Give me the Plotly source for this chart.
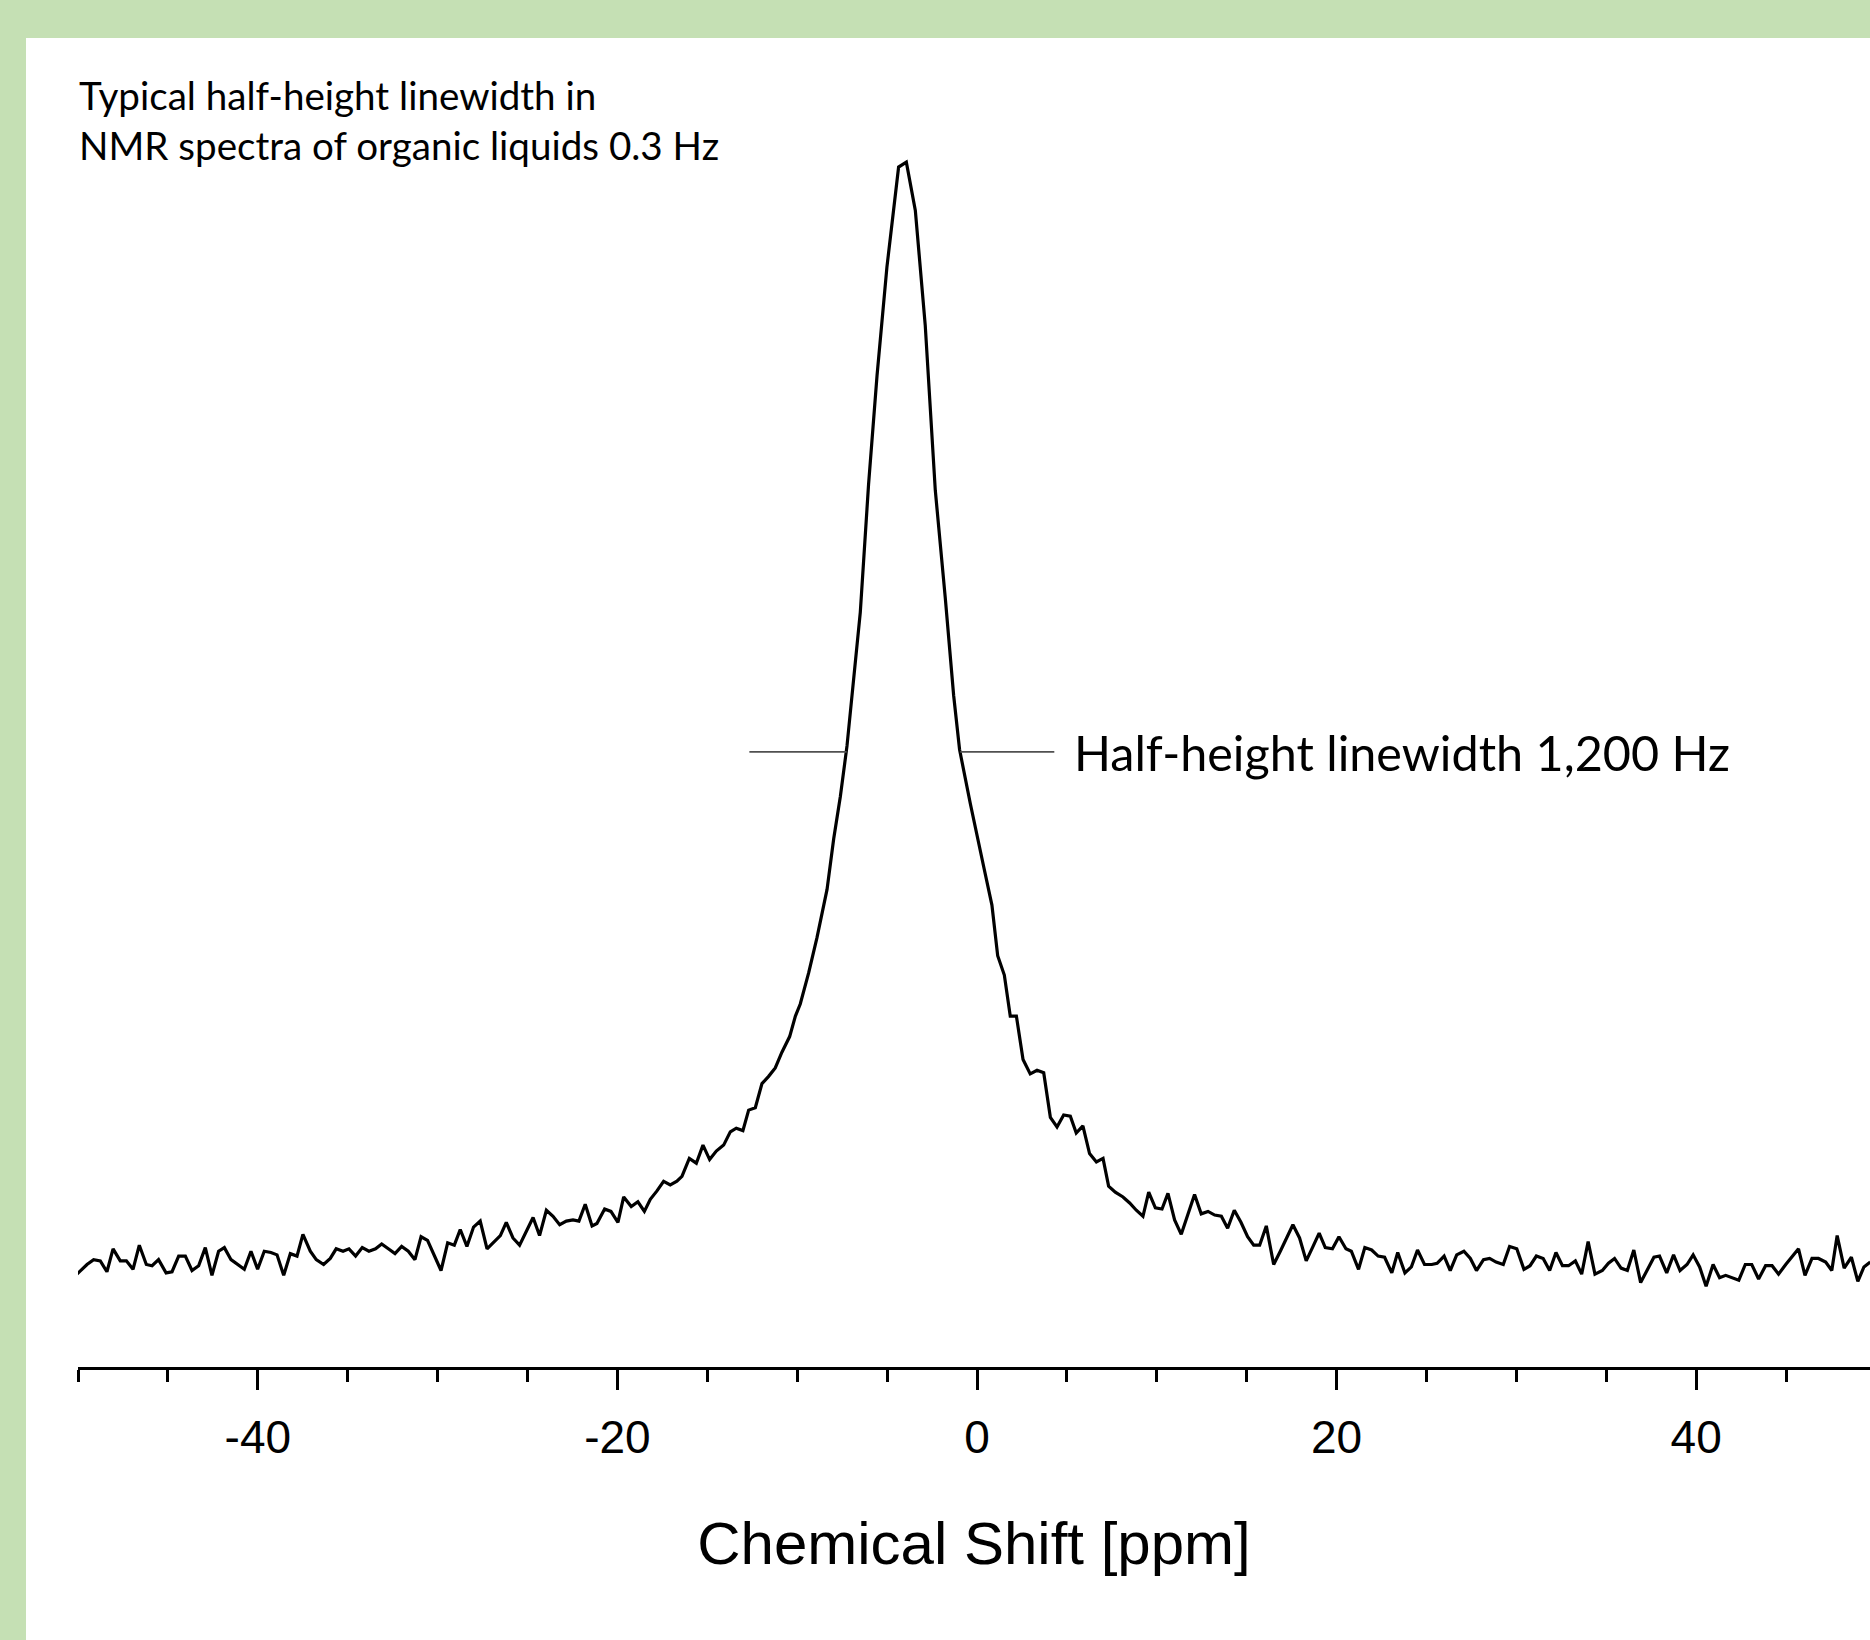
import plotly.graph_objects as go

# ---------------- data ----------------
shift_ppm = [
    -50.06, -49.5, -49.13, -48.76, -48.39, -48.05, -47.65, -47.31, -46.94, -46.59,
    -46.2, -45.88, -45.52, -45.1, -44.77, -44.4, -44.03, -43.66, -43.29, -42.92,
    -42.55, -42.18, -41.86, -41.49, -40.75, -40.38, -40.01, -39.64, -39.27, -38.93,
    -38.56, -38.19, -37.82, -37.49, -37.08, -36.75, -36.34, -35.97, -35.64, -35.26,
    -34.93, -34.56, -34.19, -33.82, -33.45, -33.11, -32.74, -32.37, -32.0, -31.63,
    -31.26, -30.92, -30.56, -29.81, -29.44, -29.07, -28.74, -28.37, -28.0, -27.63,
    -27.25, -26.89, -26.51, -26.18, -25.81, -25.44, -25.07, -24.69, -24.33, -23.95,
    -23.58, -23.21, -22.84, -22.47, -22.14, -21.79,
    -21.41, -21.14, -20.71, -20.36, -19.97, -19.65, -19.23, -18.86, -18.5, -18.17,
    -17.8, -17.43, -17.06, -16.69, -16.41, -16.0, -15.61, -15.24, -14.87, -14.5,
    -14.09, -13.72, -13.39, -13.02, -12.7, -12.33, -11.96, -11.59, -11.22, -10.85,
    -10.42, -10.1,
    -9.83, -9.36, -8.9, -8.34, -7.97, -7.6, -7.23, -6.86, -6.49, -6.03,
    -5.56, -5.01, -4.36, -3.93, -3.43, -2.88, -2.32, -1.76, -1.3, -0.97,
    -0.37, 0.37, 0.83, 1.15, 1.52,
    1.85, 2.19, 2.56, 2.96, 3.34, 3.71, 4.08, 4.45, 4.82, 5.19,
    5.52, 5.89, 6.26, 6.64, 7.01, 7.32, 7.69, 8.12, 8.49, 8.86,
    9.23, 9.55, 9.92, 10.29, 10.62, 10.99, 11.36, 11.73, 12.1, 12.47,
    12.85, 13.22, 13.59, 13.94, 14.31, 14.68, 15.05, 15.39, 15.72, 16.09,
    16.5, 16.87, 17.24, 17.57, 17.94, 18.31, 18.69,
    19.03, 19.37, 19.77, 20.13, 20.52, 20.82, 21.22, 21.57, 21.95, 22.31,
    22.67, 23.07, 23.4, 23.8, 24.16, 24.5, 24.89, 25.29, 25.59, 25.98,
    26.32, 26.68, 27.08, 27.44, 27.78, 28.17, 28.51, 28.87, 29.27, 29.62,
    30.02, 30.42, 30.76, 31.11, 31.49, 31.85, 32.2, 32.56, 32.9, 33.28,
    33.63, 33.99, 34.37, 34.78, 35.12, 35.46, 35.82, 36.17, 36.53, 36.91,
    37.27, 37.65, 37.96, 38.36, 38.74, 39.1, 39.49, 39.83, 40.19, 40.55,
    40.94, 41.3, 41.64, 42.01, 42.37, 42.73, 43.09, 43.47, 43.86, 44.22,
    44.58, 44.98, 45.35, 45.69, 46.05, 46.44, 46.8, 47.2, 47.54, 47.84,
    48.23, 48.63, 48.99, 49.33, 49.68,
]

intensity = [
    7.7, 8.5, 8.9, 8.8, 7.9, 9.8, 8.8, 8.8, 8.1, 10.1,
    8.5, 8.4, 8.9, 7.8, 7.9, 9.2, 9.2, 8.0, 8.4, 9.9,
    7.6, 9.6, 9.9, 8.9, 8.1, 9.6, 8.1, 9.6, 9.5, 9.3,
    7.6, 9.4, 9.2, 11.0, 9.6, 8.9, 8.5, 9.0, 9.8, 9.6,
    9.8, 9.2, 9.9, 9.6, 9.8, 10.2, 9.8, 9.4, 10.0, 9.6,
    8.9, 10.8, 10.5, 8.0, 10.3, 10.1, 11.4, 10.0, 11.6, 12.1,
    9.8, 10.3, 10.9, 12.0, 10.7, 10.1, 11.2, 12.4, 10.9, 13.0,
    12.5, 11.8, 12.1, 12.2, 12.1, 13.5,
    11.7, 11.9, 13.1, 12.9, 12.0, 14.1, 13.3, 13.7, 12.9, 13.9,
    14.6, 15.4, 15.1, 15.4, 15.8, 17.3, 16.9, 18.4, 17.2, 17.9,
    18.4, 19.5, 19.8, 19.6, 21.3, 21.5, 23.5, 24.1, 24.8, 26.1,
    27.4, 29.1,
    30.1, 32.7, 35.6, 39.6, 43.8, 47.3, 51.5, 56.8, 62.6, 73.2,
    82.2, 91.2, 99.5, 99.9, 95.9, 86.4, 72.7, 63.7, 55.7, 51.2,
    46.7, 41.5, 38.3, 34.1, 32.5,
    29.1, 29.1, 25.5, 24.3, 24.6, 24.4, 20.7, 19.9, 20.9, 20.8,
    19.4, 20.0, 17.7, 17.0, 17.3, 15.0, 14.5, 14.1, 13.6, 13.0,
    12.5, 14.5, 13.2, 13.1, 14.4, 12.2, 11.0, 12.6, 14.3, 12.7,
    12.9, 12.6, 12.5, 11.5, 13.0, 12.0, 10.8, 10.1, 10.1, 11.7,
    8.5, 9.6, 10.7, 11.8, 10.7, 8.8, 10.0,
    11.1, 9.9, 9.8, 10.8, 9.8, 9.6, 8.1, 9.9, 9.7, 9.2,
    9.1, 7.8, 9.5, 7.8, 8.3, 9.7, 8.5, 8.5, 8.6, 9.2,
    8.0, 9.3, 9.6, 9.0, 8.0, 8.9, 9.0, 8.7, 8.5, 10.0,
    9.8, 8.1, 8.4, 9.2, 9.0, 8.0, 9.5, 8.4, 8.4, 8.8,
    7.7, 10.4, 7.7, 8.0, 8.6, 9.0, 8.2, 8.0, 9.7, 7.0,
    8.0, 9.1, 9.2, 7.8, 9.3, 8.0, 8.5, 9.3, 8.3, 6.7,
    8.5, 7.4, 7.6, 7.4, 7.2, 8.5, 8.5, 7.3, 8.4, 8.4,
    7.7, 8.5, 9.2, 9.8, 7.6, 9.0, 9.0, 8.7, 8.0, 10.9,
    8.2, 9.1, 7.1, 8.3, 8.7,
]

major_ticks = [-40, -20, 0, 20, 40]
major_tick_labels = ["-40", "-20", "0", "20", "40"]
minor_ticks = [-50, -45, -35, -30, -25, -15, -10, -5, 5, 10, 15, 25, 30, 35, 45]

half_height = 51.0
half_left_x = [-12.66, -7.25]
half_right_x = [-0.93, 4.3]

x_title = "Chemical Shift [ppm]"
note_text = "Typical half-height linewidth in<br>NMR spectra of organic liquids 0.3 Hz"
half_label = "Half-height linewidth 1,200 Hz"

# ---------------- figure ----------------
W, H = 1870, 1640
ML, MR, MT, MB = 78, 0, 150, 273
plot_w = W - ML - MR
plot_h = H - MT - MB

def px_to_paper_x(px):
    return (px - ML) / plot_w

def px_to_paper_y(py):
    return (H - MB - py) / plot_h

green = "#c5e0b4"

fig = go.Figure()

fig.add_trace(go.Scatter(
    x=shift_ppm, y=intensity, mode="lines",
    line=dict(color="black", width=3.2), hoverinfo="skip", showlegend=False,
))

for xs in (half_left_x, half_right_x):
    fig.add_trace(go.Scatter(
        x=xs, y=[half_height, half_height], mode="lines",
        line=dict(color="#505050", width=1.8), hoverinfo="skip", showlegend=False,
    ))

fig.add_annotation(
    x=5.3, y=half_height, xref="x", yref="y", xanchor="left", yanchor="middle",
    text=half_label, showarrow=False,
    font=dict(family="Lato", size=48.5, color="black"),
)

fig.add_annotation(
    x=px_to_paper_x(77), y=px_to_paper_y(70), xref="paper", yref="paper",
    xanchor="left", yanchor="top", align="left",
    text=note_text, showarrow=False,
    font=dict(family="Lato", size=38.6, color="black"),
)

# green frame (top band and left band)
fig.add_shape(type="rect", xref="paper", yref="paper",
              x0=px_to_paper_x(-50), x1=px_to_paper_x(W + 50),
              y0=px_to_paper_y(38), y1=px_to_paper_y(-50),
              fillcolor=green, line=dict(width=0), layer="below")
fig.add_shape(type="rect", xref="paper", yref="paper",
              x0=px_to_paper_x(-50), x1=px_to_paper_x(26),
              y0=px_to_paper_y(H + 50), y1=px_to_paper_y(-50),
              fillcolor=green, line=dict(width=0), layer="below")

fig.update_layout(
    width=W, height=H, autosize=False,
    margin=dict(l=ML, r=MR, t=MT, b=MB, pad=0),
    paper_bgcolor="white", plot_bgcolor="white",
    showlegend=False,
    xaxis=dict(
        range=[-50, -50 + plot_w / 17.98],
        showline=True, linecolor="black", linewidth=3,
        showgrid=False, zeroline=False,
        ticks="outside", tickvals=major_ticks, ticktext=major_tick_labels,
        ticklen=20, tickwidth=2.5, tickcolor="black",
        ticklabelstandoff=8,
        minor=dict(tickvals=minor_ticks, ticks="outside", ticklen=12,
                   tickwidth=2.5, tickcolor="black", showgrid=False),
        tickfont=dict(family="Liberation Sans, Arial, sans-serif", size=46, color="black"),
        title=dict(text=x_title, standoff=60,
                   font=dict(family="Liberation Sans, Arial, sans-serif", size=60, color="black")),
    ),
    yaxis=dict(range=[0, plot_h / 12.06], visible=False, showgrid=False, zeroline=False),
)

fig.write_html(
    "out.html",
    config={"displayModeBar": False},
    post_script="document.body.style.margin='0px';document.body.style.overflow='hidden';",
)
